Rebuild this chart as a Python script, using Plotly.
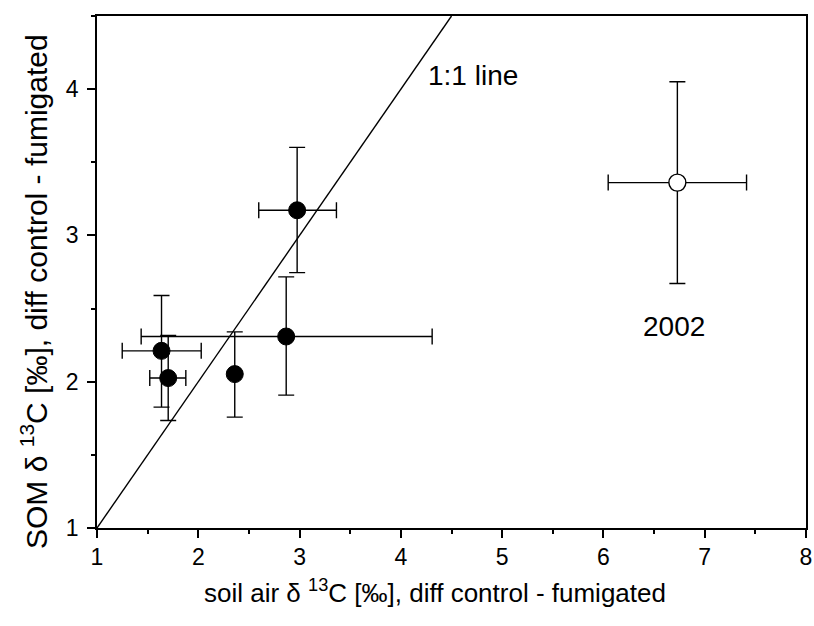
import plotly.graph_objects as go

# --- data ---
soil_air = [1.637, 1.703, 2.360, 2.868, 2.976]
som = [2.211, 2.025, 2.052, 2.309, 3.172]
soil_air_err_plus = [0.392, 0.174, 0.0, 1.441, 0.388]
soil_air_err_minus = [0.388, 0.182, 0.0, 1.432, 0.379]
som_err_plus = [0.378, 0.291, 0.289, 0.408, 0.430]
som_err_minus = [0.385, 0.290, 0.294, 0.401, 0.426]

soil_air_2002 = [6.730]
som_2002 = [3.361]
soil_air_2002_err = [0.683]
som_2002_err = [0.690]

one_to_one = [1, 4.5]

x_ticks = [1, 2, 3, 4, 5, 6, 7, 8]
y_ticks = [1, 2, 3, 4]

FONT = "Liberation Sans, Arial, sans-serif"
ebar = dict(color="black", thickness=1.4, width=8)

fig = go.Figure()

fig.add_trace(go.Scatter(
    x=one_to_one, y=one_to_one, mode="lines",
    line=dict(color="black", width=1.4), showlegend=False, hoverinfo="skip"))

fig.add_trace(go.Scatter(
    x=soil_air, y=som, mode="markers",
    marker=dict(size=17, color="black", line=dict(color="black", width=1)),
    error_x=dict(type="data", array=soil_air_err_plus, arrayminus=soil_air_err_minus, **ebar),
    error_y=dict(type="data", array=som_err_plus, arrayminus=som_err_minus, **ebar),
    showlegend=False))

fig.add_trace(go.Scatter(
    x=soil_air_2002, y=som_2002, mode="markers",
    marker=dict(size=17, color="white", line=dict(color="black", width=1.4)),
    error_x=dict(type="data", array=soil_air_2002_err, **ebar),
    error_y=dict(type="data", array=som_2002_err, **ebar),
    showlegend=False))

axis_common = dict(
    showgrid=False, zeroline=False, showline=True, linecolor="black", linewidth=1.5,
    mirror=True, ticks="outside", ticklen=8, tickwidth=1.5, tickcolor="black",
    tickfont=dict(family=FONT, size=23, color="black"),
    minor=dict(ticks="outside", ticklen=4, tickwidth=1.5, tickcolor="black", dtick=0.5, showgrid=False),
)

L, R, T, B = 97, 8, 16, 98
W, H = 814, 626
pw = W - L - R
ph = H - T - B


def px_to_paper_x(px):
    return (px - L) / pw


def py_to_paper_y(py):
    return (H - B - py) / ph


fig.update_layout(
    width=W, height=H,
    margin=dict(l=L, r=R, t=T, b=B, autoexpand=False),
    plot_bgcolor="white", paper_bgcolor="white",
    xaxis=dict(range=[1, 8], tickvals=x_ticks, ticklabelstandoff=0, **axis_common),
    yaxis=dict(range=[1, 4.5], tickvals=y_ticks, ticklabelstandoff=4, **axis_common),
)

fig.add_annotation(
    x=4.25, y=4.096, xref="x", yref="y", text="1:1 line", showarrow=False,
    xanchor="left", yanchor="middle", font=dict(family=FONT, size=28, color="black"))
fig.add_annotation(
    x=6.70, y=2.375, xref="x", yref="y", text="2002", showarrow=False,
    xanchor="center", yanchor="middle", font=dict(family=FONT, size=28, color="black"))
fig.add_annotation(
    x=px_to_paper_x(435), y=py_to_paper_y(591), xref="paper", yref="paper",
    text="soil air δ <sup>13</sup>C [‰], diff control - fumigated", showarrow=False,
    xanchor="center", yanchor="middle", font=dict(family=FONT, size=26, color="black"))
fig.add_annotation(
    x=px_to_paper_x(34), y=py_to_paper_y(292), xref="paper", yref="paper",
    text="SOM δ <sup>13</sup>C [‰], diff control - fumigated", showarrow=False, textangle=-90,
    xanchor="center", yanchor="middle", font=dict(family=FONT, size=30, color="black"))

fig.write_html("out.html")
